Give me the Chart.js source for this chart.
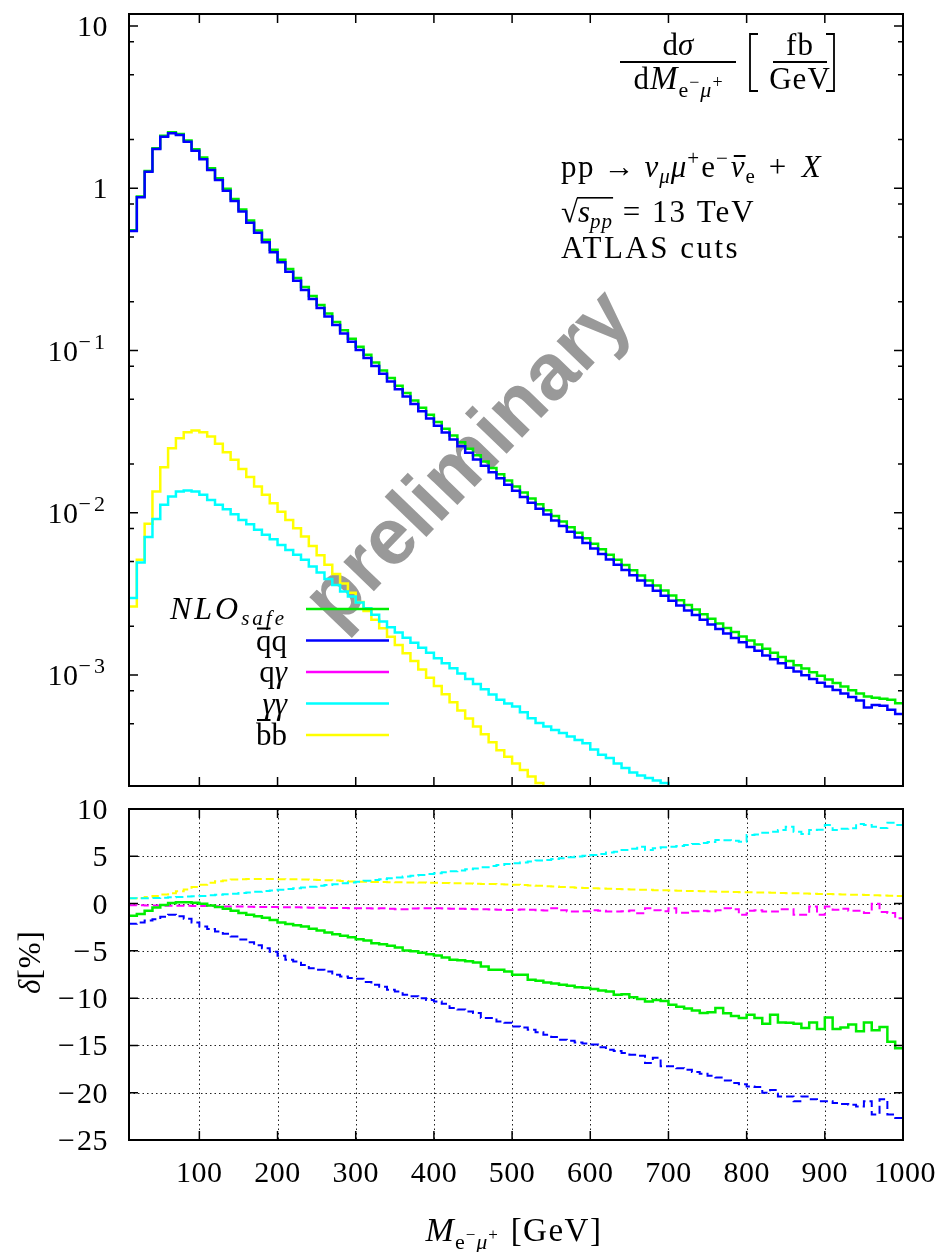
<!DOCTYPE html>
<html>
<head>
<meta charset="utf-8">
<script src="https://cdn.jsdelivr.net/npm/chart.js@4.4.1/dist/chart.umd.min.js"></script>
<style>
  body { margin: 0; background: #fff; }
  #wrap { position: relative; width: 937px; height: 1252px; }
  canvas { position: absolute; left: 0; top: 0; }
</style>
</head>
<body>
<div id="wrap">
  <canvas id="topPanel" width="937" height="1252"></canvas>
  <canvas id="ratioPanel" width="937" height="1252"></canvas>
</div>
<script>
// bin edges of the M(e- mu+) histogram [GeV]
const binEdges = [10, 20, 30, 40, 50, 60, 70, 80, 90, 100,
  110, 120, 130, 140, 150, 160, 170, 180, 190, 200,
  210, 220, 230, 240, 250, 260, 270, 280, 290, 300,
  310, 320, 330, 340, 350, 360, 370, 380, 390, 400,
  410, 420, 430, 440, 450, 460, 470, 480, 490, 500,
  510, 520, 530, 540, 550, 560, 570, 580, 590, 600,
  610, 620, 630, 640, 650, 660, 670, 680, 690, 700,
  710, 720, 730, 740, 750, 760, 770, 780, 790, 800,
  810, 820, 830, 840, 850, 860, 870, 880, 890, 900,
  910, 920, 930, 940, 950, 960, 970, 980, 990, 1000];

// dsigma/dM [fb/GeV], one value per bin
const nloSafe = [0.551, 0.889, 1.279, 1.767, 2.107, 2.211, 2.160, 1.971, 1.742, 1.546,
  1.329, 1.154, 0.992, 0.859, 0.739, 0.632, 0.549, 0.481, 0.418, 0.363,
  0.318, 0.280, 0.246, 0.217, 0.191, 0.169, 0.150, 0.1331, 0.1183, 0.1055,
  0.0941, 0.0843, 0.0754, 0.0676, 0.0607, 0.0547, 0.0492, 0.0444, 0.0402, 0.0363,
  0.0329, 0.0299, 0.0272, 0.0248, 0.0226, 0.0207, 0.0189, 0.0173, 0.0158, 0.01451,
  0.01333, 0.01225, 0.01128, 0.01038, 0.00956, 0.00883, 0.00815, 0.00753, 0.00696, 0.00645,
  0.00596, 0.00552, 0.00513, 0.00476, 0.00442, 0.00411, 0.00383, 0.00356, 0.00332, 0.00309,
  0.00289, 0.00270, 0.00253, 0.00237, 0.00222, 0.00208, 0.00195, 0.00184, 0.00173, 0.00163,
  0.00154, 0.00145, 0.00137, 0.00129, 0.00122, 0.00115, 0.001098, 0.001041, 0.000988, 0.000938,
  0.000892, 0.000849, 0.000807, 0.00077, 0.000738, 0.000725, 0.000715, 0.000705, 0.00067];
const qqbar = [0.546, 0.881, 1.265, 1.746, 2.080, 2.183, 2.128, 1.936, 1.706, 1.510,
  1.297, 1.125, 0.966, 0.836, 0.718, 0.614, 0.532, 0.465, 0.404, 0.350,
  0.306, 0.269, 0.236, 0.208, 0.183, 0.162, 0.1435, 0.1274, 0.1132, 0.1009,
  0.0899, 0.0804, 0.0719, 0.0644, 0.0578, 0.0520, 0.0468, 0.0422, 0.0381, 0.0344,
  0.0312, 0.0283, 0.0257, 0.0234, 0.0213, 0.0195, 0.0178, 0.0163, 0.0149, 0.01365,
  0.01253, 0.01151, 0.01059, 0.00975, 0.00897, 0.00828, 0.00764, 0.00705, 0.00652, 0.00603,
  0.00557, 0.00516, 0.00479, 0.00444, 0.00412, 0.00383, 0.00356, 0.00331, 0.00308, 0.00287,
  0.00268, 0.00250, 0.00234, 0.00219, 0.00205, 0.00192, 0.00180, 0.00169, 0.00159, 0.00149,
  0.00141, 0.00132, 0.00125, 0.00118, 0.00111, 0.00105, 0.000998, 0.000946, 0.000897, 0.000851,
  0.000809, 0.000769, 0.000731, 0.000697, 0.000631, 0.000653, 0.000646, 0.000610, 0.000575];
// photon-photon and b-bbar only until they leave the plot (10..700 and 10..540 GeV)
const gammaGamma = [0.00298, 0.00493, 0.00708, 0.00916, 0.0112, 0.0126, 0.0135, 0.0137, 0.0135, 0.0129,
  0.0120, 0.0112, 0.0105, 0.0098, 0.00904, 0.00851, 0.00785, 0.00731, 0.00687, 0.00634,
  0.0059, 0.00551, 0.00513, 0.00467, 0.00429, 0.0039, 0.00359, 0.00327, 0.00305, 0.0028,
  0.00258, 0.00235, 0.00214, 0.00197, 0.00183, 0.0017, 0.00158, 0.00147, 0.00137, 0.00127,
  0.00118, 0.0011, 0.00102, 0.000946, 0.000879, 0.000817, 0.000759, 0.000705, 0.000668, 0.00064,
  0.000589, 0.000542, 0.000506, 0.000482, 0.000459, 0.000439, 0.000418, 0.000398, 0.00038, 0.000347,
  0.000322, 0.000308, 0.000285, 0.000267, 0.000251, 0.00024, 0.000232, 0.000224, 0.000216, 0.000205];
const bbbar = [0.00264, 0.00513, 0.00855, 0.0135, 0.0191, 0.025, 0.0288, 0.0314, 0.0321, 0.0314,
  0.0295, 0.0266, 0.0236, 0.0212, 0.0186, 0.0166, 0.0145, 0.0129, 0.01146, 0.01016,
  0.00904, 0.00804, 0.00713, 0.00624, 0.00547, 0.00479, 0.00419, 0.00366, 0.00321, 0.00282,
  0.00248, 0.00219, 0.00194, 0.00172, 0.00153, 0.00136, 0.00122, 0.00108, 0.000962, 0.000855,
  0.000762, 0.000679, 0.000605, 0.00054, 0.000482, 0.000431, 0.000385, 0.000344, 0.000313, 0.000285,
  0.00026, 0.000237, 0.000216, 0.000197];

// relative corrections delta [%]
const deltaNlo = [-1.3, -1.1, -0.75, -0.42, -0.15, 0.05, 0.15, 0.15, 0.1, -0.03,
  -0.2, -0.35, -0.55, -0.77, -1.0, -1.19, -1.35, -1.5, -1.75, -2.0,
  -2.15, -2.3, -2.43, -2.65, -2.85, -3.05, -3.24, -3.4, -3.55, -3.76,
  -3.9, -4.19, -4.3, -4.45, -4.65, -4.96, -5.05, -5.2, -5.35, -5.49,
  -5.7, -5.95, -6.0, -6.1, -6.23, -6.65, -7.0, -7.0, -7.18, -7.53,
  -7.53, -8.06, -8.15, -8.34, -8.45, -8.59, -8.7, -8.85, -8.9, -9.04,
  -9.2, -9.3, -9.65, -9.6, -9.9, -10.1, -10.35, -10.2, -10.3, -10.7,
  -10.9, -11.1, -11.3, -11.58, -11.5, -11.05, -11.6, -11.9, -12.1, -11.76,
  -12.1, -12.7, -11.76, -12.57, -12.6, -12.7, -13.16, -12.57, -13.27, -12.04,
  -13.27, -13.1, -12.8, -13.5, -12.57, -13.4, -13.04, -14.6, -15.3];
const deltaQq = [-2.14, -2.0, -1.8, -1.65, -1.4, -1.19, -1.35, -1.6, -2.0, -2.43,
  -2.7, -2.95, -3.2, -3.48, -3.8, -4.08, -4.4, -4.72, -5.1, -5.52,
  -5.95, -6.12, -6.5, -6.83, -7.0, -7.18, -7.53, -7.7, -7.88, -7.95,
  -8.3, -8.59, -8.8, -9.12, -9.3, -9.64, -9.8, -10.0, -10.2, -10.35,
  -10.6, -11.05, -11.2, -11.4, -11.58, -12.1, -12.1, -12.46, -12.6, -13.0,
  -13.1, -13.34, -13.6, -13.87, -14.1, -14.4, -14.5, -14.7, -14.8, -14.9,
  -15.2, -15.45, -15.6, -15.8, -15.98, -16.1, -16.86, -16.3, -17.2, -17.2,
  -17.4, -17.57, -17.8, -18.0, -18.2, -18.4, -18.7, -18.97, -19.1, -19.33,
  -19.4, -20.0, -19.7, -20.4, -20.4, -20.9, -20.4, -20.7, -20.9, -20.9,
  -21.1, -21.2, -21.27, -21.45, -20.9, -22.3, -20.7, -22.3, -22.67];
const deltaQg = [-0.17, -0.18, -0.2, -0.2, -0.22, -0.22, -0.23, -0.24, -0.25, -0.25,
  -0.27, -0.28, -0.3, -0.3, -0.32, -0.33, -0.35, -0.36, -0.37, -0.38,
  -0.39, -0.4, -0.42, -0.43, -0.45, -0.46, -0.47, -0.48, -0.49, -0.49,
  -0.5, -0.52, -0.5, -0.55, -0.6, -0.6, -0.52, -0.5, -0.5, -0.49,
  -0.52, -0.55, -0.56, -0.58, -0.6, -0.6, -0.62, -0.65, -0.67, -0.65,
  -0.62, -0.66, -0.7, -0.73, -0.5, -0.7, -0.84, -0.84, -0.8, -0.7,
  -0.75, -0.84, -0.84, -0.8, -0.72, -1.02, -0.5, -0.7, -0.8, -0.49,
  -0.97, -0.97, -0.8, -0.75, -0.8, -0.7, -0.5, -0.6, -1.19, -0.75,
  -0.7, -0.85, -0.85, -0.6, -0.6, -1.19, -1.19, -0.32, -1.19, -0.32,
  -0.65, -0.55, -0.75, -0.75, -1.0, -0.03, -0.9, -1.0, -1.55];
const deltaGg = [0.57, 0.55, 0.55, 0.58, 0.62, 0.66, 0.7, 0.74, 0.77, 0.81,
  0.87, 0.93, 0.99, 1.05, 1.12, 1.18, 1.25, 1.32, 1.38, 1.45,
  1.53, 1.62, 1.7, 1.79, 1.88, 1.96, 2.05, 2.14, 2.23, 2.32,
  2.4, 2.49, 2.58, 2.67, 2.76, 2.85, 2.94, 3.03, 3.12, 3.21,
  3.3, 3.41, 3.5, 3.62, 3.72, 3.84, 3.96, 4.09, 4.18, 4.27,
  4.35, 4.45, 4.55, 4.62, 4.7, 4.8, 4.9, 4.98, 5.05, 5.14,
  5.25, 5.4, 5.49, 5.67, 5.8, 6.02, 5.67, 5.85, 5.95, 6.02,
  6.1, 6.2, 6.3, 6.4, 6.5, 6.73, 6.7, 6.65, 6.55, 7.26,
  7.3, 7.5, 7.6, 7.78, 8.13, 7.6, 7.36, 7.78, 7.8, 8.31,
  7.78, 7.9, 7.96, 8.42, 8.3, 8.13, 8.0, 8.55, 8.31];
const deltaBb = [0.57, 0.6, 0.7, 0.8, 0.95, 1.1, 1.3, 1.5, 1.75, 2.0,
  2.2, 2.35, 2.45, 2.55, 2.58, 2.6, 2.6, 2.6, 2.6, 2.58,
  2.57, 2.56, 2.55, 2.53, 2.5, 2.47, 2.43, 2.38, 2.34, 2.3,
  2.3, 2.29, 2.27, 2.26, 2.25, 2.24, 2.23, 2.22, 2.21, 2.2,
  2.18, 2.16, 2.14, 2.12, 2.1, 2.08, 2.06, 2.04, 2.02, 2.0,
  1.96, 1.92, 1.88, 1.84, 1.8, 1.76, 1.72, 1.68, 1.65, 1.63,
  1.6, 1.58, 1.55, 1.52, 1.5, 1.47, 1.45, 1.42, 1.4, 1.38,
  1.36, 1.34, 1.32, 1.3, 1.28, 1.26, 1.24, 1.22, 1.21, 1.2,
  1.18, 1.16, 1.14, 1.12, 1.1, 1.08, 1.06, 1.04, 1.02, 1.0,
  0.98, 0.96, 0.94, 0.92, 0.9, 0.88, 0.86, 0.84, 0.8];

// axis ticks
const xTicks = [100, 200, 300, 400, 500, 600, 700, 800, 900, 1000];
const logMajor = [10, 1, 0.1, 0.01, 0.001];
const logMajorBase = ['10', '1', '10', '10', '10'];
const logMajorExp = ['', '', '\u22121', '\u22122', '\u22123'];
const logMinor = [8, 5, 2, 0.8, 0.5, 0.2, 0.08, 0.05, 0.02, 0.008, 0.005, 0.002, 0.0008, 0.0005];
const deltaTicks = [10, 5, 0, -5, -10, -15, -20, -25];

const GREEN = '#00ee00', BLUE = '#0000ff', MAGENTA = '#ff00ff', CYAN = '#00ffff', YELLOW = '#ffff00';
const SERIF = '"Liberation Serif", "DejaVu Serif", serif';

// step histogram: value i is held from edge i to edge i+1
function steps(vals) {
  const pts = vals.map((v, i) => ({ x: binEdges[i], y: v }));
  pts.push({ x: binEdges[vals.length], y: vals[vals.length - 1] });
  return pts;
}
function hist(vals, color, width, dash) {
  return { data: steps(vals), borderColor: color, borderWidth: width, borderDash: dash || [],
    stepped: true, pointRadius: 0, fill: false };
}

// text with sub/superscripts; parts = [{t, s, it, dy, ls, bar}]
function fnt(p) { return (p.it ? 'italic ' : '') + (p.s || 30) + 'px ' + SERIF; }
function partWidth(ctx, p) {
  ctx.font = fnt(p);
  ctx.letterSpacing = '0px';
  return ctx.measureText(p.t).width + (p.ls || 0) * p.t.length + (p.g || 0);
}
function rich(ctx, parts, x, y, align) {
  let w = 0;
  parts.forEach(p => { w += partWidth(ctx, p); });
  let cx = align === 'right' ? x - w : align === 'center' ? x - w / 2 : x;
  ctx.textAlign = 'left';
  ctx.textBaseline = 'alphabetic';
  const pos = [];
  parts.forEach(p => {
    const pw = partWidth(ctx, p);
    ctx.font = fnt(p);
    ctx.letterSpacing = (p.ls || 0) + 'px';
    ctx.fillText(p.t, cx, y + (p.dy || 0));
    if (p.bar) ctx.fillRect(cx + (p.it ? 3 : 1), y + (p.dy || 0) - p.bar, pw - (p.ls || 0) - 2, 2);
    pos.push(cx);
    cx += pw;
  });
  ctx.letterSpacing = '0px';
  pos.push(cx);
  return pos;
}

const watermark = {
  id: 'watermark',
  beforeDatasetsDraw(chart) {
    const ctx = chart.ctx;
    ctx.save();
    ctx.translate(470, 460);
    ctx.rotate(-46 * Math.PI / 180);
    ctx.font = 'bold 80px "Liberation Sans", Arial, sans-serif';
    ctx.fillStyle = '#999999';
    ctx.textAlign = 'center';
    ctx.textBaseline = 'middle';
    ctx.fillText('preliminary', 0, 0);
    ctx.restore();
  }
};

function bracket(ctx, x, top, bottom, dir) {
  ctx.beginPath();
  ctx.moveTo(x + dir * 8, top);
  ctx.lineTo(x, top);
  ctx.lineTo(x, bottom);
  ctx.lineTo(x + dir * 8, bottom);
  ctx.stroke();
}

const topDecor = {
  id: 'topDecor',
  afterDraw(chart) {
    const { ctx, chartArea: a, scales: { x, y } } = chart;
    ctx.save();
    ctx.strokeStyle = '#000';
    ctx.lineWidth = 2;
    ctx.strokeRect(a.left, a.top, a.right - a.left, a.bottom - a.top);
    ctx.lineWidth = 1.5;
    ctx.beginPath();
    xTicks.forEach(v => {
      if (v >= 1000) return;
      const px = x.getPixelForValue(v);
      ctx.moveTo(px, a.top); ctx.lineTo(px, a.top + 9);
      ctx.moveTo(px, a.bottom); ctx.lineTo(px, a.bottom - 9);
    });
    logMajor.forEach(v => {
      const py = y.getPixelForValue(v);
      ctx.moveTo(a.left, py); ctx.lineTo(a.left + 9, py);
      ctx.moveTo(a.right, py); ctx.lineTo(a.right - 9, py);
    });
    logMinor.forEach(v => {
      const py = y.getPixelForValue(v);
      ctx.moveTo(a.left, py); ctx.lineTo(a.left + 5, py);
      ctx.moveTo(a.right, py); ctx.lineTo(a.right - 5, py);
    });
    ctx.stroke();

    ctx.fillStyle = '#000';
    logMajor.forEach((v, i) => {
      const py = y.getPixelForValue(v);
      const parts = [{ t: logMajorBase[i], ls: 0.5 }];
      if (logMajorExp[i]) parts.push({ t: logMajorExp[i], s: 22, dy: -12, ls: 3 });
      rich(ctx, parts, 108, py + 10, 'right');
    });

    // dsigma / dM [fb/GeV]
    rich(ctx, [{ t: 'd', s: 31 }, { t: '\u03c3', it: 1, s: 31 }], 678, 55, 'center');
    rich(ctx, [{ t: 'd', s: 31, ls: 1 }, { t: 'M', it: 1, s: 33, ls: 1 }, { t: 'e', s: 22, dy: 8, ls: 1 },
      { t: '\u2212', s: 18, dy: -1, ls: 1 }, { t: '\u03bc', it: 1, s: 22, dy: 8, ls: 1 },
      { t: '+', s: 18, dy: -1 }], 678, 89, 'center');
    ctx.fillRect(620, 61, 116, 2);
    ctx.strokeStyle = '#000';
    ctx.lineWidth = 1.8;
    bracket(ctx, 750, 34, 91, 1);
    bracket(ctx, 834, 34, 91, -1);
    rich(ctx, [{ t: 'fb', s: 31, ls: 1 }], 800, 55, 'center');
    rich(ctx, [{ t: 'GeV', s: 31, ls: 1 }], 800, 89, 'center');
    ctx.fillRect(773, 61, 54, 2);

    // process, energy, cuts
    rich(ctx, [{ t: 'pp', s: 31, ls: 1.5 }, { t: ' \u2192 ', s: 31, ls: 1 }, { t: '\u03bd', it: 1, s: 31, ls: 1 },
      { t: '\u03bc', it: 1, s: 21, dy: 6, ls: 1 }, { t: '\u03bc', it: 1, s: 31, ls: 1 }, { t: '+', s: 21, dy: -12, ls: 2 },
      { t: 'e', s: 31, ls: 1 }, { t: '\u2212', s: 21, dy: -12, ls: 3 },
      { t: '\u03bd', it: 1, s: 31, bar: 22, ls: 1 }, { t: 'e', s: 21, dy: 6, ls: 2 }, { t: ' + ', s: 31, ls: 4 },
      { t: 'X', it: 1, s: 31 }], 561, 177, 'left');
    const sq = rich(ctx, [{ t: '\u221a', s: 31 }, { t: 's', it: 1, s: 31 }, { t: 'pp', it: 1, s: 21, dy: 6, ls: 1 },
      { t: ' = 13 TeV', s: 31, ls: 2 }], 561, 222, 'left');
    ctx.fillRect(sq[1] - 1, 197, sq[3] - sq[1] + 1, 1.6);
    rich(ctx, [{ t: 'ATLAS cuts', s: 31, ls: 2.5 }], 561, 258, 'left');

    // legend
    const rows = [
      { parts: [{ t: 'NLO', it: 1, s: 32, ls: 3 }, { t: 'safe', it: 1, s: 21, dy: 6, ls: 3 }], color: GREEN },
      { parts: [{ t: 'q', s: 31, bar: 23 }, { t: 'q', s: 31 }], color: BLUE },
      { parts: [{ t: 'q', s: 31 }, { t: '\u03b3', it: 1, s: 31 }], color: MAGENTA },
      { parts: [{ t: '\u03b3\u03b3', it: 1, s: 31 }], color: CYAN },
      { parts: [{ t: 'b', s: 31, bar: 26 }, { t: 'b', s: 31 }], color: YELLOW }
    ];
    rows.forEach((r, i) => {
      const cy = 609 + i * 31.5;
      ctx.fillStyle = '#000';
      rich(ctx, r.parts, 287, cy + 10, 'right');
      ctx.strokeStyle = r.color;
      ctx.lineWidth = 2.5;
      ctx.beginPath();
      ctx.moveTo(306, cy); ctx.lineTo(389, cy);
      ctx.stroke();
    });
    ctx.restore();
  }
};

const ratioGrid = {
  id: 'ratioGrid',
  beforeDatasetsDraw(chart) {
    const { ctx, chartArea: a, scales: { x, y } } = chart;
    ctx.save();
    ctx.strokeStyle = '#222';
    ctx.lineWidth = 1;
    ctx.setLineDash([1.5, 3]);
    ctx.beginPath();
    xTicks.forEach(v => {
      if (v >= 1000) return;
      const px = Math.round(x.getPixelForValue(v)) + 0.5;
      ctx.moveTo(px, a.top); ctx.lineTo(px, a.bottom);
    });
    deltaTicks.forEach(v => {
      if (v >= 10 || v <= -25) return;
      const py = Math.round(y.getPixelForValue(v)) + 0.5;
      ctx.moveTo(a.left, py); ctx.lineTo(a.right, py);
    });
    ctx.stroke();
    ctx.restore();
  },
  afterDraw(chart) {
    const { ctx, chartArea: a, scales: { x, y } } = chart;
    ctx.save();
    ctx.strokeStyle = '#000';
    ctx.lineWidth = 2;
    ctx.strokeRect(a.left, a.top, a.right - a.left, a.bottom - a.top);
    ctx.lineWidth = 1.5;
    ctx.beginPath();
    xTicks.forEach(v => {
      if (v >= 1000) return;
      const px = x.getPixelForValue(v);
      ctx.moveTo(px, a.top); ctx.lineTo(px, a.top + 9);
      ctx.moveTo(px, a.bottom); ctx.lineTo(px, a.bottom - 9);
    });
    deltaTicks.forEach(v => {
      const py = y.getPixelForValue(v);
      ctx.moveTo(a.left, py); ctx.lineTo(a.left + 9, py);
      ctx.moveTo(a.right, py); ctx.lineTo(a.right - 9, py);
    });
    ctx.stroke();

    ctx.fillStyle = '#000';
    deltaTicks.forEach(v => {
      const py = y.getPixelForValue(v);
      const parts = v < 0 ? [{ t: '\u2212', ls: 2 }, { t: String(-v), ls: 0.5 }] : [{ t: String(v), ls: 0.5 }];
      rich(ctx, parts, 108, py + 10, 'right');
    });
    xTicks.forEach(v => {
      rich(ctx, [{ t: String(v), ls: 0.5 }], x.getPixelForValue(v) + (v === 1000 ? 2 : 0), 1182, 'center');
    });
    rich(ctx, [{ t: 'M', it: 1, s: 34, ls: 1 }, { t: 'e', s: 22, dy: 8, ls: 1 }, { t: '\u2212', s: 17, dy: -1, ls: 1 },
      { t: '\u03bc', it: 1, s: 22, dy: 8, ls: 1 }, { t: '+', s: 17, dy: -1, ls: 3 }, { t: ' [GeV]', s: 33, ls: 1.5 }],
      514, 1241, 'center');

    ctx.save();
    ctx.translate(30, 962);
    ctx.rotate(-Math.PI / 2);
    rich(ctx, [{ t: '\u03b4', it: 1, s: 31 }, { t: '[%]', s: 31, ls: 1 }], 0, 10, 'center');
    ctx.restore();
    ctx.restore();
  }
};

const common = {
  responsive: false,
  animation: false,
  events: [],
  plugins: { legend: { display: false }, tooltip: { enabled: false } }
};

new Chart(document.getElementById('topPanel'), {
  type: 'line',
  data: {
    datasets: [
      hist(qqbar, BLUE, 2.5),
      hist(nloSafe, GREEN, 2.5),
      hist(gammaGamma, CYAN, 2.5),
      hist(bbbar, YELLOW, 2.5)
    ]
  },
  options: Object.assign({}, common, {
    layout: { padding: { left: 129, right: 34, top: 14, bottom: 466 } },
    scales: {
      x: { type: 'linear', display: false, min: 10, max: 1000 },
      y: { type: 'logarithmic', display: false, min: 2.07e-4, max: 11.86 }
    }
  }),
  plugins: [watermark, topDecor]
});

new Chart(document.getElementById('ratioPanel'), {
  type: 'line',
  data: {
    datasets: [
      hist(deltaNlo, GREEN, 2.5),
      hist(deltaQq, BLUE, 2, [8, 4]),
      hist(deltaQg, MAGENTA, 2, [8, 4]),
      hist(deltaGg, CYAN, 2, [8, 4]),
      hist(deltaBb, YELLOW, 2, [8, 4])
    ]
  },
  options: Object.assign({}, common, {
    layout: { padding: { left: 129, right: 34, top: 809, bottom: 112 } },
    scales: {
      x: { type: 'linear', display: false, min: 10, max: 1000 },
      y: { type: 'linear', display: false, min: -25, max: 10 }
    }
  }),
  plugins: [ratioGrid]
});
</script>
</body>
</html>
